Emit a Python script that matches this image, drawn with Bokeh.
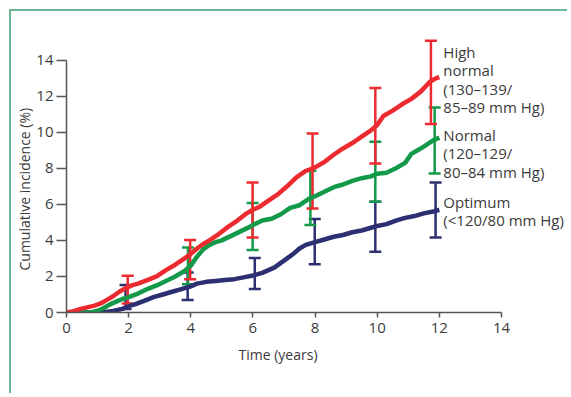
from bokeh.plotting import figure
from bokeh.models import Range1d, FixedTicker, ColumnDataSource, Whisker, TeeHead, Title
from bokeh.embed import file_html
from bokeh.resources import INLINE
from bokeh.core.properties import value

# ---------------- data ----------------
x_ticks = [0, 2, 4, 6, 8, 10, 12, 14]
y_ticks = [0, 2, 4, 6, 8, 10, 12, 14]

high_t = [0.0, 0.2, 0.45, 0.7, 0.9, 1.1, 1.3, 1.5, 1.7, 1.9, 2.1, 2.3, 2.6, 2.9, 3.2, 3.5, 3.8,
          4.0, 4.2, 4.4, 4.6, 4.9, 5.2, 5.5, 5.8, 6.0, 6.2, 6.5, 6.8, 7.1, 7.4, 7.7, 8.0, 8.3,
          8.6, 8.9, 9.2, 9.5, 9.8, 10.0, 10.2, 10.5, 10.8, 11.1, 11.4, 11.7, 11.9, 12.0]
high_v = [0.0, 0.05, 0.2, 0.3, 0.38, 0.5, 0.7, 0.9, 1.15, 1.35, 1.5, 1.6, 1.8, 2.0, 2.35, 2.65, 3.0,
          3.25, 3.55, 3.8, 4.0, 4.35, 4.75, 5.1, 5.5, 5.7, 5.85, 6.2, 6.55, 7.0, 7.5, 7.85, 8.05, 8.35,
          8.75, 9.1, 9.4, 9.75, 10.1, 10.4, 10.9, 11.2, 11.55, 11.85, 12.25, 12.8, 13.0, 13.05]

normal_t = [0.0, 0.5, 0.8, 1.0, 1.2, 1.4, 1.6, 1.8, 2.0, 2.3, 2.6, 2.9, 3.2, 3.5, 3.8, 4.0, 4.2,
            4.4, 4.6, 4.8, 5.0, 5.3, 5.6, 5.9, 6.0, 6.3, 6.6, 6.9, 7.2, 7.5, 7.8, 8.0, 8.3, 8.6,
            8.9, 9.2, 9.5, 9.8, 10.0, 10.3, 10.6, 10.9, 11.1, 11.3, 11.5, 11.8, 12.0]
normal_v = [0.0, 0.0, 0.02, 0.1, 0.25, 0.45, 0.6, 0.75, 0.85, 1.05, 1.3, 1.5, 1.75, 2.0, 2.3, 2.6, 3.1,
            3.5, 3.75, 3.9, 4.0, 4.25, 4.5, 4.75, 4.85, 5.1, 5.2, 5.45, 5.8, 5.95, 6.3, 6.45, 6.7, 6.95,
            7.1, 7.3, 7.45, 7.55, 7.7, 7.75, 8.0, 8.3, 8.8, 9.0, 9.2, 9.55, 9.7]

opt_t = [0.0, 0.8, 1.2, 1.5, 1.8, 2.0, 2.2, 2.5, 2.8, 3.1, 3.4, 3.7, 4.0, 4.2, 4.5, 4.8, 5.1, 5.4,
         5.7, 6.0, 6.3, 6.5, 6.7, 6.9, 7.1, 7.3, 7.5, 7.7, 8.0, 8.3, 8.6, 8.9, 9.2, 9.5, 9.8, 10.0,
         10.3, 10.6, 10.9, 11.2, 11.5, 11.8, 12.0]
opt_v = [0.0, 0.0, 0.02, 0.08, 0.2, 0.35, 0.45, 0.65, 0.85, 1.0, 1.15, 1.3, 1.45, 1.6, 1.7, 1.75, 1.8, 1.85,
         1.95, 2.05, 2.2, 2.35, 2.5, 2.75, 3.0, 3.25, 3.55, 3.75, 3.9, 4.05, 4.2, 4.3, 4.45, 4.55, 4.7, 4.8,
         4.9, 5.1, 5.25, 5.35, 5.5, 5.6, 5.7]

high_err_t = [1.97, 3.98, 5.99, 7.92, 9.94, 11.73]
high_err_hi = [2.04, 4.02, 7.21, 9.93, 12.45, 15.07]
high_err_lo = [0.50, 1.85, 4.16, 5.77, 8.26, 10.45]

normal_err_t = [3.91, 5.99, 7.85, 9.94, 11.85]
normal_err_hi = [3.60, 6.07, 7.86, 9.47, 11.37]
normal_err_lo = [1.57, 3.46, 4.86, 6.14, 7.71]

opt_err_t = [1.90, 3.90, 6.06, 7.99, 9.94, 11.88]
opt_err_hi = [1.52, 2.22, 3.02, 5.18, 6.14, 7.21]
opt_err_lo = [0.19, 0.69, 1.30, 2.68, 3.37, 4.16]

high_label = ["High", "normal", "(130–139/", "85–89 mm Hg)"]
normal_label = ["Normal", "(120–129/", "80–84 mm Hg)"]
opt_label = ["Optimum", "(<120/80 mm Hg)"]

x_title = "Time (years)"
y_title = "Cumulative incidence (%)"

RED = "#ec2a2f"
GREEN = "#129a4a"
NAVY = "#2c2f72"
TEXT = "#3b3b3b"
AXIS = "#555555"
FRAME = "#6cb894"
FONT = "Open Sans"

# ---------------- figure ----------------
p = figure(width=558, height=384, output_backend="svg", toolbar_location=None,
           x_range=Range1d(0, 16.19), y_range=Range1d(0, 16.64),
           min_border_left=55, min_border_right=0, min_border_top=1, min_border_bottom=83)
p.styles = {"margin-left": "9px", "margin-top": "9px",
            "border-top": f"2px solid {FRAME}", "border-left": f"2px solid {FRAME}"}
p.outline_line_color = None
p.grid.visible = False
p.background_fill_color = "white"
p.border_fill_color = "white"

for ax, ticks, tick_len, standoff in ((p.xaxis[0], x_ticks, 5, 5), (p.yaxis[0], y_ticks, 10, 3)):
    ax.bounds = (0, 14)
    ax.ticker = FixedTicker(ticks=ticks)
    ax.major_tick_out = tick_len
    ax.major_tick_in = 0
    ax.minor_tick_out = 0
    ax.minor_tick_in = 0
    ax.axis_line_color = AXIS
    ax.axis_line_width = 1.5
    ax.major_tick_line_color = AXIS
    ax.major_tick_line_width = 1.5
    ax.major_label_text_font = FONT
    ax.major_label_text_font_size = "15px"
    ax.major_label_text_color = TEXT
    ax.major_label_standoff = standoff

# curves
p.line(opt_t, opt_v, line_color=NAVY, line_width=4.5, line_join="round")
p.line(normal_t, normal_v, line_color=GREEN, line_width=4.5, line_join="round")
p.line(high_t, high_v, line_color=RED, line_width=4.5, line_join="round")

# error bars
for ts, hi, lo, col in ((opt_err_t, opt_err_hi, opt_err_lo, NAVY),
                        (normal_err_t, normal_err_hi, normal_err_lo, GREEN),
                        (high_err_t, high_err_hi, high_err_lo, RED)):
    src = ColumnDataSource(dict(base=ts, upper=hi, lower=lo))
    w = Whisker(source=src, base="base", upper="upper", lower="lower",
                line_color=col, line_width=2.5,
                upper_head=TeeHead(size=12, line_color=col, line_width=2.5),
                lower_head=TeeHead(size=12, line_color=col, line_width=2.5))
    p.add_layout(w)

# series labels (positions are layout, in data units)
label_x = 12.13
for lines, ys in ((high_label, [14.44, 13.43, 12.41, 11.40]),
                  (normal_label, [9.84, 8.82, 7.81]),
                  (opt_label, [6.14, 5.13])):
    p.text(x=[label_x] * len(lines), y=ys, text=lines, text_font=value(FONT),
           text_font_size="15px", text_color=TEXT, text_baseline="alphabetic",
           text_align="left")

# axis titles
p.add_layout(Title(text=x_title, align="left", offset=172, standoff=15,
                   text_font=FONT, text_font_size="14px", text_color=TEXT,
                   text_font_style="normal"), "below")
p.add_layout(Title(text=y_title, align="left", offset=42, standoff=0,
                   text_font=FONT, text_font_size="14px", text_color=TEXT,
                   text_font_style="normal"), "left")

open("out.html", "w").write(file_html(p, INLINE))
